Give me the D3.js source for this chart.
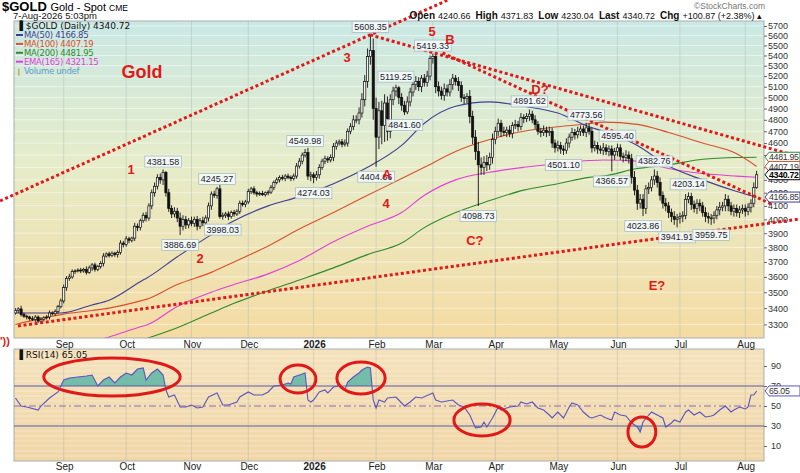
<!DOCTYPE html>
<html>
<head>
<meta charset="utf-8">
<script src="https://cdn.jsdelivr.net/npm/d3@7"></script>
<style>
body { margin: 0; background: #fff; }
svg { font-family: "Liberation Sans", Arial, sans-serif; display: block; }
</style>
</head>
<body>
<div id="container"></div>
<script>
// daily closes, $GOLD, 7-Aug-2025 .. 7-Aug-2026
var closes = [
  3385, 3395, 3360, 3350, 3345, 3335, 3330, 3345, 3320, 3330,
  3340, 3345, 3370, 3365, 3380, 3410, 3445, 3530, 3590, 3600,
  3635, 3640, 3645, 3640, 3650, 3630, 3660, 3680, 3650, 3670,
  3690, 3740, 3755, 3745, 3760, 3750, 3765, 3830, 3820, 3860,
  3850, 3865, 3950, 3940, 3990, 4030, 4010, 4100, 4200, 4250,
  4320, 4300, 4360, 4200, 4080, 4040, 4060, 4010, 3950, 4000,
  3960, 3990, 3970, 4000, 3950, 3990, 3975, 4010, 4100, 4190,
  4180, 4230, 4020, 4030, 4040, 4020, 4050, 4040, 4060, 4120,
  4110, 4130, 4210, 4230, 4200, 4190, 4195, 4185, 4200, 4205,
  4240, 4280, 4300, 4320, 4310, 4330, 4320, 4310, 4330, 4410,
  4450, 4500, 4520, 4330, 4340, 4320, 4340, 4400, 4450, 4470,
  4460, 4480, 4570, 4600, 4610, 4590, 4600, 4700, 4740, 4800,
  4800, 4860, 4980, 5150, 5390, 5450, 4900, 4650, 4880, 4750,
  4950, 4700, 4980, 5060, 5090, 5000, 4930, 4870, 4960, 5050,
  5120, 5150, 5100, 5180, 5140, 5200, 5370, 5390, 5100, 5060,
  5020, 5080, 5050, 5120, 5180, 5150, 5110, 5000, 4990, 5010,
  4830, 4650, 4530, 4420, 4400, 4440, 4420, 4480, 4630, 4700,
  4770, 4700, 4690, 4710, 4680, 4750, 4760, 4740, 4820, 4810,
  4830, 4850, 4800, 4760, 4700, 4690, 4710, 4690, 4700, 4600,
  4560, 4580, 4550, 4540, 4600, 4650, 4690, 4670, 4700, 4720,
  4690, 4730, 4700, 4560, 4580, 4550, 4540, 4560, 4530, 4550,
  4500, 4530, 4560, 4490, 4480, 4500, 4470, 4320, 4220, 4120,
  4150, 4080, 4230, 4240, 4300, 4330, 4280, 4180, 4120, 4100,
  4050, 4020, 4000, 4010, 4020, 4030, 4150, 4170, 4110, 4080,
  4120, 4100, 4050, 4020, 4010, 4010, 4030, 4070, 4090, 4100,
  4150, 4100, 4060, 4080, 4050, 4070, 4080, 4060, 4090, 4120, 4239.85, 4340.72
];
// upper / lower shadows in $ beyond the candle body
var wickHi = [
  15,10,20,12,10,8,15,12,10,14, 10,12,15,10,12,10,15,20,15,20,
  15,10,12,15,10,20,15,12,15,10, 15,20,10,15,12,10,15,20,15,20,
  15,10,25,20,15,20,25,20,25,30, 25,30,22,10,30,25,30,25,40,30,
  25,20,30,20,25,20,30,20,25,20, 25,15,30,20,15,20,15,20,15,20,
  20,15,20,15,20,15,15,20,10,15, 20,15,20,15,20,15,20,15,20,25,
  25,20,30,40,25,20,30,25,20,25, 20,25,30,25,20,25,30,25,30,40,
  40,50,60,60,80,158,120,100,80,90, 80,60,50,40,29,15,40,40,50,40,
  40,50,40,30,40,50,30,29,20,50, 40,50,40,50,40,30,40,40,30,30,
  60,50,60,80,60,50,60,40,50,40, 40,30,40,30,40,30,40,30,40,30,
  30,42,30,40,30,30,40,30,40,30, 30,40,30,30,40,30,40,30,40,30,
  30,44,40,30,40,30,30,40,30,30, 30,30,35,30,30,40,30,40,50,40,
  40,40,30,40,30,53,40,40,30,40, 30,30,40,30,30,30,40,33,30,30,
  30,30,30,40,30,30,30,30,40,30, 40,30,30,30,30,30,30,30,30,30,40,31.11
];
var wickLo = [
  10,15,12,10,15,12,10,15,10,12, 12,10,15,10,12,15,12,15,20,15,
  12,15,10,15,12,15,10,20,15,12, 15,20,10,15,12,15,20,15,20,15,
  20,15,20,25,20,15,25,20,25,30, 25,30,40,30,25,30,25,30,63,30,
  30,25,20,25,30,20,25,20,25,30, 20,25,15,22,20,25,15,20,15,20,
  15,20,15,20,15,20,15,10,15,20, 15,20,15,20,15,20,15,20,15,20,
  20,25,20,30,40,46,25,30,20,25, 25,20,30,25,20,25,20,30,25,30,
  30,40,40,60,60,80,100,245,100,160, 140,80,60,50,50,60,50,28,20,40,
  40,50,40,50,40,40,40,50,60,50, 40,50,40,40,50,40,50,40,50,40,
  60,60,70,321,60,60,50,40,50,40, 40,50,30,40,30,40,30,40,30,40,
  30,40,30,40,30,40,30,40,30,40, 40,30,40,39,30,40,30,40,30,40,
  30,40,30,40,30,40,30,40,30,40, 133,40,40,30,40,30,40,50,40,50,
  40,56,40,40,30,40,40,40,40,40, 40,40,40,58,40,40,30,30,40,30,
  40,40,30,40,40,50,40,30,40,30, 40,40,30,40,30,40,30,40,30,40,30,9.81
];

// moving averages sampled along the chart (trading-day index -> value)
var maIdx  = [0, 16, 27, 33, 45, 46, 57, 69, 77, 89, 100, 112, 124, 136, 144, 155, 167, 179, 191, 202, 207, 219, 230, 242, 254, 261];
var ma50   = [3370, 3370, 3420, 3450, 3580, 3590, 3735, 3890, 3990, 4100, 4170, 4270, 4400, 4580, 4770, 4920, 4960, 4920, 4860, 4740, 4700, 4580, 4410, 4300, 4210, 4166.85];
var ma100  = [3300, 3360, 3385, 3400, 3450, 3455, 3550, 3630, 3700, 3810, 3930, 4050, 4180, 4310, 4400, 4530, 4630, 4700, 4740, 4765, 4780, 4760, 4690, 4600, 4510, 4407.19];
var ma200  = [null, null, null, null, null, 3215, 3280, 3370, 3430, 3510, 3580, 3660, 3750, 3830, 3940, 4050, 4140, 4220, 4270, 4320, 4330, 4390, 4420, 4465, 4480, 4481.95];
var ema165 = [null, null, 3195, 3225, 3290, 3295, 3410, 3500, 3550, 3620, 3710, 3840, 3950, 4050, 4180, 4300, 4360, 4400, 4430, 4455, 4460, 4450, 4390, 4350, 4330, 4321.15];

// RSI(14)
var rsiIdx = [0,2,4,8,9,12,15,17,19,22,25,27,29,31,33,35,37,39,41,43,45,46,48,50,51,52,53,54,56,58,60,62,64,66,68,71,73,75,78,79,82,84,87,89,91,94,96,97,98,100,101,102,103,104,105,107,109,110,112,114,116,117,119,121,122,124,125,126,127,128,130,131,134,135,137,139,141,143,147,148,150,152,154,156,158,160,162,164,165,166,168,170,171,174,177,178,180,182,184,186,188,189,191,193,195,196,198,200,202,203,206,208,210,211,213,215,217,219,220,221,223,224,226,228,229,231,232,234,236,237,239,241,243,245,246,248,250,252,253,255,257,258,259,260,261];
var rsiVal = [58,50,49,46,50,58,64,76,78,79,80,81,70,76,79,73,79,83,81,87,88,76,83,87,84,81,66,59,61,49,49,51,48,49,59,63,51,51,54,59,64,61,61,64,70,71,73,72,79,81,82,83,56,54,56,64,66,63,69,70,66,74,79,83,86,89,88,56,48,56,54,58,59,56,50,54,59,58,63,56,54,55,56,51,49,41,28,29,34,29,38,49,46,49,50,54,52,54,48,46,41,38,44,38,49,53,51,44,39,38,41,38,36,44,41,40,33,29,24,34,41,44,41,38,29,33,36,34,44,46,41,44,39,40,41,46,50,44,46,49,47,49,61,61,65.05];

// labelled highs / lows
var pivotIdx  = [52, 58, 71, 73, 102, 105, 125, 127, 134, 137, 147, 163, 181, 193, 201, 210, 212, 221, 225, 233, 237, 245];
var pivotText = ["4381.58","3886.69","4245.27","3998.03","4549.98","4274.03","5608.35","4404.66","5119.25","4841.60","5419.33","4098.73","4891.62","4501.10","4773.56","4366.57","4595.40","4023.86","4382.76","3941.91","4203.14","3959.75"];
var pivotSide = ["H","L","H","L","H","L","H","L","H","L","H","L","H","L","H","L","H","L","H","L","H","L"];

// hand-drawn annotations (trading-day index, price)
var waveText  = ["Gold", "1", "2", "3", "4", "5", "B", "A", "C?", "D?", "E?"];
var waveIdx   = [44.6, 40.7, 65, 116.8, 130.5, 146.7, 153.0, 130.8, 161.8, 184.7, 225.9];
var wavePrice = [5240, 4379, 3727, 5376, 4122, 5638, 5556, 4339, 3852, 5079, 3547];
var trendLines = [
  [-5.4, 4137, 152.3, 5978],
  [0.9, 3291, 276.3, 4003],
  [124.9, 5608, 276.3, 4484],
  [150.4, 5425, 266.9, 4107]
];
var ellIdx  = [34, 99.5, 121.7, 164.3, 220.6];
var ellRsi  = [79, 77, 78, 36, 24];
var ellDays = [24, 6.3, 8.5, 9.9, 4.9];
var ellSpan = [19, 14, 16, 16, 15];

var priceTicks = d3.range(3300, 5701, 100);
var rsiTicks = [10, 30, 50, 70, 90];

// ---- build
var dates = [];
for (var d = new Date(2025, 7, 7); d <= new Date(2026, 7, 7); d.setDate(d.getDate() + 1)) {
  if (d.getDay() != 0 && d.getDay() != 6) dates.push(new Date(d));
}
var candles = closes.map(function(c, i) {
  var o = i ? closes[i - 1] : 3370;
  return { i: i, o: o, c: c, h: Math.max(o, c) + wickHi[i], l: Math.min(o, c) - wickLo[i] };
});

var L = 14, R = 764, mainTop = 21, mainBot = 338, rsiTop = 349, rsiBot = 461;

var x = d3.scaleLinear().domain([-0.5, 263.6]).range([L, R]);
var y = d3.scaleLog().domain([3219, 5752]).range([mainBot, mainTop]);
var yr = d3.scaleLinear().domain([-5, 107]).range([rsiBot, rsiTop]);

var svg = d3.select("#container").append("svg")
  .attr("width", 800).attr("height", 473);

var defs = svg.append("defs");
var g1 = defs.append("linearGradient").attr("id", "bgMain").attr("x1", 0).attr("y1", 0).attr("x2", 0).attr("y2", 1);
g1.append("stop").attr("offset", "0%").attr("stop-color", "#cae8e4");
g1.append("stop").attr("offset", "45%").attr("stop-color", "#e6ecc9");
g1.append("stop").attr("offset", "100%").attr("stop-color", "#f5dba3");
var g2 = defs.append("linearGradient").attr("id", "bgRsi").attr("x1", 0).attr("y1", 0).attr("x2", 0).attr("y2", 1);
g2.append("stop").attr("offset", "0%").attr("stop-color", "#f4e2bc");
g2.append("stop").attr("offset", "100%").attr("stop-color", "#f1d6a7");
defs.append("clipPath").attr("id", "clipMain").append("rect")
  .attr("x", L).attr("y", mainTop).attr("width", R - L).attr("height", mainBot - mainTop);
defs.append("clipPath").attr("id", "clipRsi").append("rect")
  .attr("x", L).attr("y", rsiTop).attr("width", R - L).attr("height", rsiBot - rsiTop);
defs.append("clipPath").attr("id", "clipOver").append("rect")
  .attr("x", L).attr("y", rsiTop).attr("width", R - L).attr("height", yr(70) - rsiTop);
defs.append("clipPath").attr("id", "clipUnder").append("rect")
  .attr("x", L).attr("y", yr(30)).attr("width", R - L).attr("height", rsiBot - yr(30));

// panels
svg.append("rect").attr("x", L).attr("y", mainTop).attr("width", R - L).attr("height", mainBot - mainTop)
  .attr("fill", "url(#bgMain)");
svg.append("rect").attr("x", L).attr("y", rsiTop).attr("width", R - L).attr("height", rsiBot - rsiTop)
  .attr("fill", "url(#bgRsi)");

// month boundaries
var monthStarts = dates.map(function(dt, i) { return i; })
  .filter(function(i) { return i > 0 && dates[i].getMonth() != dates[i - 1].getMonth(); });

var grid = svg.append("g").attr("class", "grid");
grid.selectAll(".hg").data(priceTicks).enter().append("line")
  .attr("x1", L).attr("x2", R)
  .attr("y1", function(d) { return y(d); }).attr("y2", function(d) { return y(d); })
  .attr("stroke", "#ffffff").attr("stroke-opacity", 0.5).attr("stroke-width", 1);
grid.selectAll(".hgr").data(d3.range(0, 101, 5)).enter().append("line")
  .attr("x1", L).attr("x2", R)
  .attr("y1", function(d) { return yr(d); }).attr("y2", function(d) { return yr(d); })
  .attr("stroke", "#ffffff").attr("stroke-opacity", 0.35).attr("stroke-width", 1);
monthStarts.forEach(function(i) {
  grid.append("line").attr("x1", x(i)).attr("x2", x(i)).attr("y1", mainTop).attr("y2", mainBot)
    .attr("stroke", "#9fb0a8").attr("stroke-opacity", 0.45).attr("stroke-width", 0.8);
  grid.append("line").attr("x1", x(i)).attr("x2", x(i)).attr("y1", rsiTop).attr("y2", rsiBot)
    .attr("stroke", "#b0a890").attr("stroke-opacity", 0.45).attr("stroke-width", 0.8);
});

// moving averages
var main = svg.append("g").attr("clip-path", "url(#clipMain)");
function maLine(vals, color, w) {
  var pts = maIdx.map(function(i, k) { return [i, vals[k]]; });
  main.append("path").datum(pts)
    .attr("fill", "none").attr("stroke", color).attr("stroke-width", w)
    .attr("d", d3.line()
      .defined(function(p) { return p[1] != null; })
      .curve(d3.curveMonotoneX)
      .x(function(p) { return x(p[0]); })
      .y(function(p) { return y(p[1]); }));
}
maLine(ma200, "#2f8a2f", 1.1);
maLine(ema165, "#e040d8", 1.1);
maLine(ma100, "#d9502c", 1.1);
maLine(ma50, "#3f3f95", 1.1);

// candles
var cg = main.selectAll(".candle").data(candles).enter().append("g").attr("class", "candle");
cg.append("line")
  .attr("x1", function(d) { return x(d.i); }).attr("x2", function(d) { return x(d.i); })
  .attr("y1", function(d) { return y(d.h); }).attr("y2", function(d) { return y(d.l); })
  .attr("stroke", "#111").attr("stroke-width", 0.9);
cg.append("rect")
  .attr("x", function(d) { return x(d.i) - 1.1; })
  .attr("width", 2.2)
  .attr("y", function(d) { return y(Math.max(d.o, d.c)); })
  .attr("height", function(d) { return Math.max(0.8, Math.abs(y(d.o) - y(d.c))); })
  .attr("fill", function(d) { return d.c >= d.o ? "#f2f2ec" : "#111"; })
  .attr("stroke", "#111").attr("stroke-width", 0.7);

// panel frames
svg.append("rect").attr("x", L).attr("y", mainTop).attr("width", R - L).attr("height", mainBot - mainTop)
  .attr("fill", "none").attr("stroke", "#a7b0ad").attr("stroke-width", 1);
svg.append("rect").attr("x", L).attr("y", rsiTop).attr("width", R - L).attr("height", rsiBot - rsiTop)
  .attr("fill", "none").attr("stroke", "#a7b0ad").attr("stroke-width", 1);

// price axis
var yAxis = svg.append("g").attr("transform", "translate(" + R + ",0)")
  .call(d3.axisRight(y).tickValues(priceTicks).tickSize(3).tickFormat(d3.format("d")));
yAxis.select(".domain").remove();
yAxis.selectAll("text").attr("font-size", 9).attr("fill", "#333").attr("x", 4)
  .attr("font-family", "Liberation Sans, Arial, sans-serif");
yAxis.selectAll("line").attr("stroke", "#666");

var rAxis = svg.append("g").attr("transform", "translate(" + R + ",0)")
  .call(d3.axisRight(yr).tickValues(rsiTicks).tickSize(3).tickFormat(d3.format("d")));
rAxis.select(".domain").remove();
rAxis.selectAll("text").attr("font-size", 9).attr("fill", "#333").attr("x", 7)
  .attr("font-family", "Liberation Sans, Arial, sans-serif");
rAxis.selectAll("line").attr("stroke", "#666");

// month labels (under the price panel and under the RSI panel)
function monthName(i) { return dates[i].getMonth() == 0 ? String(dates[i].getFullYear()) : d3.timeFormat("%b")(dates[i]); }
[mainBot + 9.5, rsiBot + 9].forEach(function(ty) {
  var ax = svg.append("g");
  monthStarts.forEach(function(i) {
    ax.append("text")
      .attr("x", x(i) + 1).attr("y", ty)
      .attr("text-anchor", "middle").attr("font-size", 10).attr("fill", "#222")
      .attr("font-weight", dates[i].getMonth() == 0 ? "bold" : "normal")
      .text(monthName(i));
  });
});

// RSI panel
var rsiPts = rsiIdx.map(function(i, k) { return [i, rsiVal[k]]; });
var rsiG = svg.append("g").attr("clip-path", "url(#clipRsi)");
var area = function(base) {
  return d3.area().x(function(p) { return x(p[0]); }).y0(yr(base)).y1(function(p) { return yr(p[1]); });
};
rsiG.append("path").datum(rsiPts).attr("clip-path", "url(#clipOver)")
  .attr("fill", "#5db6a6").attr("fill-opacity", 0.85).attr("d", area(70));
rsiG.append("path").datum(rsiPts).attr("clip-path", "url(#clipUnder)")
  .attr("fill", "#5db6a6").attr("fill-opacity", 0.85).attr("d", area(30));
[70, 30].forEach(function(v) {
  rsiG.append("line").attr("x1", L).attr("x2", R).attr("y1", yr(v)).attr("y2", yr(v))
    .attr("stroke", "#5959a8").attr("stroke-width", 1.2);
});
rsiG.append("line").attr("x1", L).attr("x2", R).attr("y1", yr(50)).attr("y2", yr(50))
  .attr("stroke", "#8a68b0").attr("stroke-width", 1).attr("stroke-dasharray", "7,3,2,3");
rsiG.append("path").datum(rsiPts)
  .attr("fill", "none").attr("stroke", "#5a55c0").attr("stroke-width", 1.1)
  .attr("d", d3.line().x(function(p) { return x(p[0]); }).y(function(p) { return yr(p[1]); }));

// RSI ellipses
svg.selectAll(".ell").data(ellIdx).enter().append("ellipse")
  .attr("cx", function(d) { return x(d); })
  .attr("cy", function(d, k) { return yr(ellRsi[k]); })
  .attr("rx", function(d, k) { return x(ellDays[k]) - x(0); })
  .attr("ry", function(d, k) { return yr(0) - yr(ellSpan[k]); })
  .attr("fill", "none").attr("stroke", "#e01818").attr("stroke-width", 3);

// trend lines
svg.selectAll(".trend").data(trendLines).enter().append("line")
  .attr("x1", function(t) { return x(t[0]); }).attr("y1", function(t) { return y(t[1]); })
  .attr("x2", function(t) { return x(t[2]); }).attr("y2", function(t) { return y(t[3]); })
  .attr("stroke", "#e01818").attr("stroke-width", 3).attr("stroke-dasharray", "3,2.6");

// pivot price boxes
pivotIdx.forEach(function(i, k) {
  var c = candles[i];
  var cy = pivotSide[k] == "H" ? y(c.h) - 8 : y(c.l) + 10;
  var g = svg.append("g");
  var t = g.append("text").attr("x", x(i)).attr("y", cy + 3)
    .attr("text-anchor", "middle").attr("font-size", 9).attr("fill", "#223")
    .text(pivotText[k]);
  var w = t.node().getComputedTextLength() + 4;
  g.insert("rect", "text").attr("x", x(i) - w / 2).attr("y", cy - 5.5).attr("width", w).attr("height", 11)
    .attr("fill", "#f4faf8").attr("fill-opacity", 0.9).attr("stroke", "#9cb8c0").attr("stroke-width", 0.7);
});

// wave labels
svg.selectAll(".wave").data(waveText).enter().append("text")
  .attr("x", function(d, k) { return x(waveIdx[k]); })
  .attr("y", function(d, k) { return y(wavePrice[k]); })
  .attr("dy", "0.35em").attr("text-anchor", "middle")
  .attr("font-size", function(d) { return d == "Gold" ? 18 : 13; })
  .attr("font-weight", "bold").attr("fill", "#e01818")
  .text(function(d) { return d; });

// right side value tags
function tag(yy, txt, color, bold) {
  var g = svg.append("g");
  g.append("path")
    .attr("d", "M" + (R + 1) + "," + yy + "L" + (R + 5) + "," + (yy - 5) + "L" + 800 + "," + (yy - 5) +
               "L" + 800 + "," + (yy + 5) + "L" + (R + 5) + "," + (yy + 5) + "Z")
    .attr("fill", "#fff").attr("stroke", color).attr("stroke-width", 1);
  g.append("text").attr("x", R + 5).attr("y", yy + 3.2).attr("font-size", 8.8)
    .attr("letter-spacing", -0.3)
    .attr("font-weight", bold ? "bold" : "normal").attr("fill", bold ? "#000" : "#333").text(txt);
}
var lastIdx = maIdx.length - 1;
tag(y(ma200[lastIdx]), d3.format(".2f")(ma200[lastIdx]), "#2f8a2f");
tag(y(ma100[lastIdx]), d3.format(".2f")(ma100[lastIdx]), "#d9502c");
tag(y(closes[closes.length - 1]), d3.format(".2f")(closes[closes.length - 1]), "#000", true);
tag(y(ma50[lastIdx]), d3.format(".2f")(ma50[lastIdx]), "#3f3f95");
tag(yr(rsiVal[rsiVal.length - 1]), d3.format(".2f")(rsiVal[rsiVal.length - 1]), "#5a55c0");

// header
var hdr = svg.append("text").attr("x", 2).attr("y", 11);
hdr.append("tspan").attr("font-size", 13).attr("font-weight", "bold").text("$GOLD ");
hdr.append("tspan").attr("font-size", 11).text("Gold - Spot ");
hdr.append("tspan").attr("font-size", 8.5).text("CME");
svg.append("text").attr("x", 13).attr("y", 19).attr("font-size", 9.5).attr("fill", "#111").text("7-Aug-2026 5:03pm");
svg.append("text").attr("x", 765).attr("y", 9).attr("text-anchor", "end").attr("font-size", 8.5)
  .attr("fill", "#777").text("\u00a9StockCharts.com");
var q = svg.append("text").attr("x", 762).attr("y", 19).attr("text-anchor", "end").attr("font-size", 9).attr("fill", "#111");
[["Open", "4240.66"], ["High", "4371.83"], ["Low", "4230.04"], ["Last", "4340.72"], ["Chg", "+100.87 (+2.38%) \u25b4"]]
  .forEach(function(p, k) {
    q.append("tspan").attr("font-weight", "bold").attr("font-size", 10).attr("dx", k ? 5 : 0).text(p[0]);
    q.append("tspan").attr("dx", 3).text(p[1]);
  });

// legend
var lg = svg.append("g").attr("font-family", "DejaVu Sans, Verdana, sans-serif");
lg.append("text").attr("x", 16).attr("y", 29).attr("font-size", 9).attr("fill", "#111")
  .text("\u2590 $GOLD (Daily) 4340.72");
var legendRows = [
  ["MA(50) 4166.85", "#3f3f95"],
  ["MA(100) 4407.19", "#d9502c"],
  ["MA(200) 4481.95", "#2f8a2f"],
  ["EMA(165) 4321.15", "#e040d8"],
  ["Volume undef", "#5a9ec8"]
];
legendRows.forEach(function(r, k) {
  var yy = 38 + k * 8.9;
  if (k < 4) {
    lg.append("line").attr("x1", 16).attr("x2", 23).attr("y1", yy - 3).attr("y2", yy - 3)
      .attr("stroke", r[1]).attr("stroke-width", 2);
  } else {
    lg.append("text").attr("x", 16).attr("y", yy).attr("font-size", 7).attr("fill", "#c8a040").text("\u2759");
  }
  lg.append("text").attr("x", 24).attr("y", yy).attr("font-size", 8.5).attr("fill", r[1])
    .attr("letter-spacing", -0.3).text(r[0]);
});
lg.append("text").attr("x", 16).attr("y", rsiTop + 9).attr("font-size", 9).attr("fill", "#111")
  .text("\u2590 RSI(14) 65.05");

svg.append("text").attr("x", 0).attr("y", 345).attr("font-size", 11).attr("font-weight", "bold")
  .attr("fill", "#e01818").text("'))");
</script>
</body>
</html>
